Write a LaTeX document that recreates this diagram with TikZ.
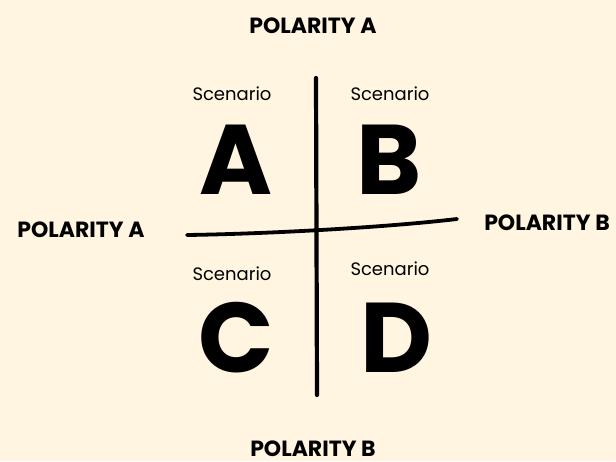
\documentclass[tikz,border=0pt]{standalone}
\usepackage{fontspec}
\setmainfont{Poppins}
\usepackage{tikz}
\usetikzlibrary{positioning, calc}
\usepackage{xcolor}
\definecolor{cream}{HTML}{FFF5E0}

\begin{document}
\begin{tikzpicture}[
  x=1pt, y=-1pt,
  pole/.style={font=\fontsize{22}{24}\selectfont\bfseries, text=black, inner sep=0pt},
  scen/.style={font=\fontsize{18}{20}\selectfont, text=black, inner sep=0pt},
  big/.style={font=\fontsize{99}{100}\selectfont\bfseries, text=black, inner sep=0pt},
  axis/.style={line width=4.2pt, line cap=round, black}
]
\fill[cream] (0,0) rectangle (616,461);
\useasboundingbox (0,0) rectangle (616,461);

\node[pole] (top) at (313,26) {POLARITY A};
\node[pole] (left) at (81,230) {POLARITY A};
\node[pole] (right) at (547,222.5) {POLARITY B};
\node[pole] (bottom) at (313,448.5) {POLARITY B};

\node[scen] (sa) at (232,94) {Scenario};
\node[scen] (sb) at (390,94) {Scenario};
\node[scen] (sc) at (232,274) {Scenario};
\node[scen] (sd) at (390,269) {Scenario};

\node[big] (la) at (236,160) {A};
\node[big] (lb) at (389,160) {B};
\node[big] (lc) at (236,338) {C};
\node[big] (ld) at (396,338) {D};

\coordinate (vtop) at (316,78);
\coordinate (vbot) at (317,395);
\coordinate (hl) at (187,235);
\coordinate (hr) at (457,219);

\draw[axis] (vtop) -- (vbot);
\draw[axis, line width=3.8pt] (hl) .. controls (260,234) and (380,228) .. (hr);
\end{tikzpicture}
\end{document}
